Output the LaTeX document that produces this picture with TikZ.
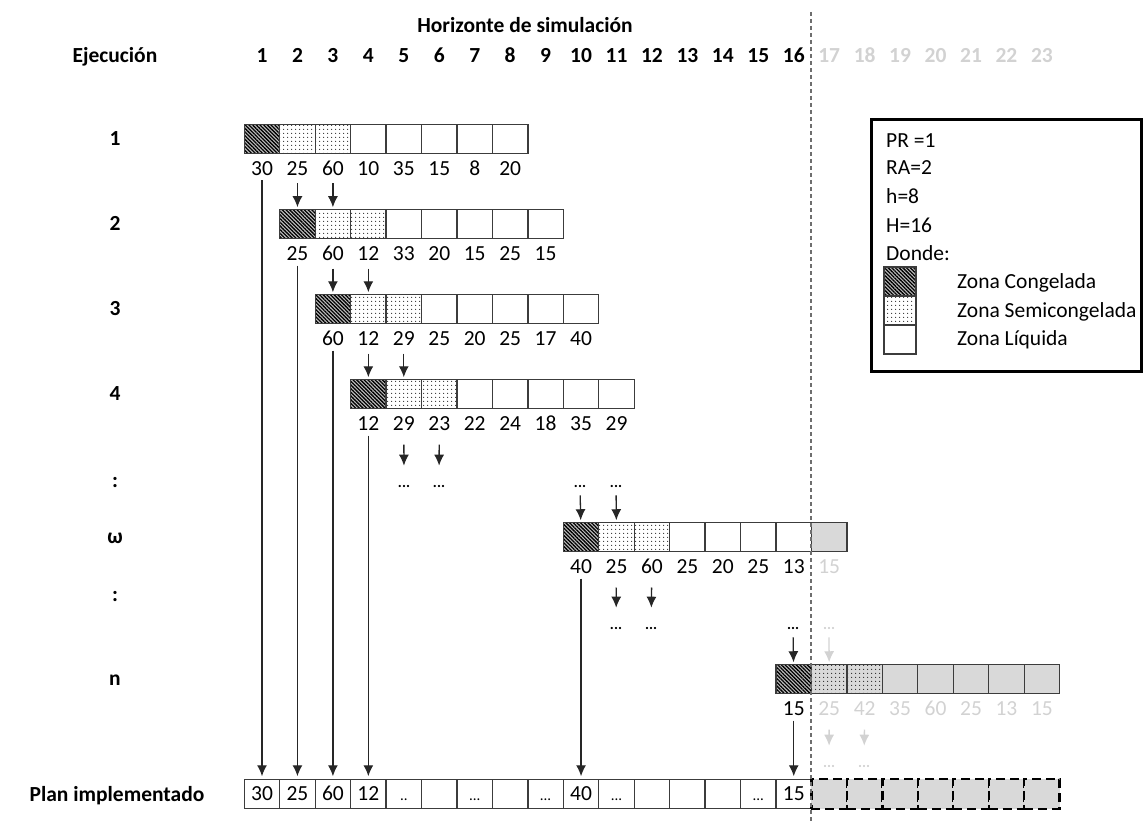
\documentclass[tikz,border=0pt]{standalone}
\usepackage{fontspec}
\setmainfont{Carlito}
\usepackage{tikz}
\usetikzlibrary{arrows.meta,patterns.meta}
\definecolor{edgec}{HTML}{3C3C3C}
\definecolor{fadec}{HTML}{D2D2D2}
\definecolor{futurec}{HTML}{D9D9D9}
\definecolor{guidec}{HTML}{6E6E6E}
\newcommand{\gapdots}[1]{{\fontsize{15}{17}\selectfont #1}}

\tikzset{
  cell/.style={draw=edgec, line width=1.3pt, minimum width=35.45pt, minimum height=29.5pt,
    inner sep=0pt, outer sep=0pt, text height=13.6pt, text depth=0pt},
  liquid/.style={cell},
  frozen/.style={cell, preaction={fill=black!25}, pattern={Lines[angle=-45,distance=2.6pt,line width=1.3pt]}},
  semi/.style={cell, pattern={Dots[distance=4pt,radius=0.65pt]}},
  liquidlate/.style={cell, fill=futurec},
  semilate/.style={semi, preaction={fill=futurec}},
  plate/.style={cell, draw=black, fill=futurec, line width=2.4pt, dash pattern=on 9pt off 5pt},
  val/.style={inner sep=0pt, text height=13.6pt, text depth=0pt},
  dotsn/.style={inner sep=0pt, font=\fontsize{15}{17}\selectfont\bfseries},
  lbl/.style={font=\fontsize{21.5}{25}\selectfont\bfseries, inner sep=0pt, text height=13.6pt, text depth=0pt},
  feed/.style={draw=black!85, line width=1.3pt, -{Latex[length=11pt,width=10pt]}, shorten <=8pt, shorten >=2pt},
  drop/.style={feed, shorten <=14pt, shorten >=19pt},
  commit/.style={feed, shorten <=5pt, shorten >=3pt}
}

\begin{document}
\begin{tikzpicture}[x=1pt, y=-1pt, font=\fontsize{21.5}{25}\selectfont]
  \useasboundingbox (0,0) rectangle (1145,821);
  % header
  \node[lbl] (horizon) at (525,26) {Horizonte de simulación};
  \node[lbl] (runs) at (115,56) {Ejecución};
  \foreach \k in {1,...,23} {
    \pgfmathsetmacro\x{262+35.45*(\k-1)}
    \ifnum\k>16 \def\hc{fadec}\else\def\hc{black}\fi
    \node[lbl, text=\hc] (h\k) at (\x,56) {\k};
  }
  \foreach \r/\t/\y in {1/1/139, 2/2/224, 3/3/309, 4/4/394, g1/:/481, w/ω/537, g2/:/595, n/n/679}
    \node[lbl] (row\r) at (115,\y) {\t};
  \node[lbl] (rowp) at (117,795) {Plan implementado};

  % runs
  \foreach \r/\c/\y/\vals in {1/1/139/{30,25,60,10,35,15,8,20}, 2/2/224/{25,60,12,33,20,15,25,15},
      3/3/309/{60,12,29,25,20,25,17,40}, 4/4/394/{12,29,23,22,24,18,35,29},
      w/10/537/{40,25,60,25,20,25,13,15}, n/16/679/{15,25,42,35,60,25,13,15}} {
    \foreach \v [count=\i] in \vals {
      \pgfmathtruncatemacro\k{\c+\i-1}
      \pgfmathsetmacro\x{262+35.45*(\k-1)}
      \ifnum\i=1 \def\kind{frozen}\else\ifnum\i<4 \def\kind{semi}\else\def\kind{liquid}\fi\fi
      \ifnum\k>16 \edef\kind{\kind late}\def\vc{fadec}\else\def\vc{black}\fi
      \node[\kind] (c\r-\k) at (\x,\y) {};
      \node[val, text=\vc] (v\r-\k) at (\x,\y+29.5) {\v};
    }
  }

  % plan implementado
  \foreach \k/\t in {1/30, 2/25, 3/60, 4/12, 5/\gapdots{..}, 6/, 7/\gapdots{...}, 8/, 9/\gapdots{...},
      10/40, 11/\gapdots{...}, 12/, 13/, 14/, 15/\gapdots{...}, 16/15} {
    \pgfmathsetmacro\x{262+35.45*(\k-1)}
    \node[cell] (p\k) at (\x,794) {\t};
  }
  \foreach \k in {17,...,23} {
    \pgfmathsetmacro\x{262+35.45*(\k-1)}
    \node[plate] (p\k) at (\x,794) {};
  }

  % elided runs
  \node[dotsn] (d4-5) at (404,486) {...};
  \node[dotsn] (d4-6) at (439,486) {...};
  \node[dotsn] (dw-10) at (580,486) {...};
  \node[dotsn] (dw-11) at (616,486) {...};
  \node[dotsn] (dx-11) at (616,628) {...};
  \node[dotsn] (dx-12) at (651,628) {...};
  \node[dotsn] (dn-16) at (793,628) {...};
  \node[dotsn, text=fadec] (dn-17) at (829,628) {...};
  \node[dotsn, text=fadec] (dy-17) at (829,766) {...};
  \node[dotsn, text=fadec] (dy-18) at (864,766) {...};

  \draw[feed] (v1-2) -- (c2-2);
  \draw[feed] (v1-3) -- (c2-3);
  \draw[feed] (v2-3) -- (c3-3);
  \draw[feed] (v2-4) -- (c3-4);
  \draw[feed] (v3-4) -- (c4-4);
  \draw[feed] (v3-5) -- (c4-5);
  \draw[feed] (dw-10) -- (cw-10);
  \draw[feed] (dw-11) -- (cw-11);
  \draw[feed] (dn-16) -- (cn-16);
  \draw[feed, fadec] (dn-17) -- (cn-17);
  \draw[drop] (v4-5) -- (d4-5);
  \draw[drop] (v4-6) -- (d4-6);
  \draw[drop] (vw-11) -- (dx-11);
  \draw[drop] (vw-12) -- (dx-12);
  \draw[drop, fadec] (vn-17) -- (dy-17);
  \draw[drop, fadec] (vn-18) -- (dy-18);
  \draw[commit] (v1-1) -- (p1);
  \draw[commit] (v2-2) -- (p2);
  \draw[commit] (v3-3) -- (p3);
  \draw[commit] (v4-4) -- (p4);
  \draw[commit] (vw-10) -- (p10);
  \draw[commit] (vn-16) -- (p16);

  % legend
  \node[draw, line width=3pt, minimum width=270pt, minimum height=252pt, inner sep=0pt] (key) at (1006.5,245.5) {};
  \node[val, anchor=west] (kpr) at (886,141) {PR =1};
  \node[val, anchor=west] (kra) at (886,168) {RA=2};
  \node[val, anchor=west] (kh) at (886,197) {h=8};
  \node[val, anchor=west] (kbh) at (886,226) {H=16};
  \node[val, anchor=west] (kwhere) at (886,254) {Donde:};
  \node[frozen, minimum width=32pt, minimum height=29pt] (k1) at (900,281.5) {};
  \node[semi, minimum width=32pt, minimum height=29pt] (k2) at (900,310.5) {};
  \node[liquid, minimum width=32pt, minimum height=29pt] (k3) at (900,339.5) {};
  \node[val, anchor=west] (k1t) at (957,282) {Zona Congelada};
  \node[val, anchor=west] (k2t) at (957,311) {Zona Semicongelada};
  \node[val, anchor=west] (k3t) at (957,339) {Zona Líquida};

  % horizon limit
  \draw[guidec, line width=1.4pt, dash pattern=on 4pt off 3pt] (811,12) -- (811,821);
\end{tikzpicture}
\end{document}
